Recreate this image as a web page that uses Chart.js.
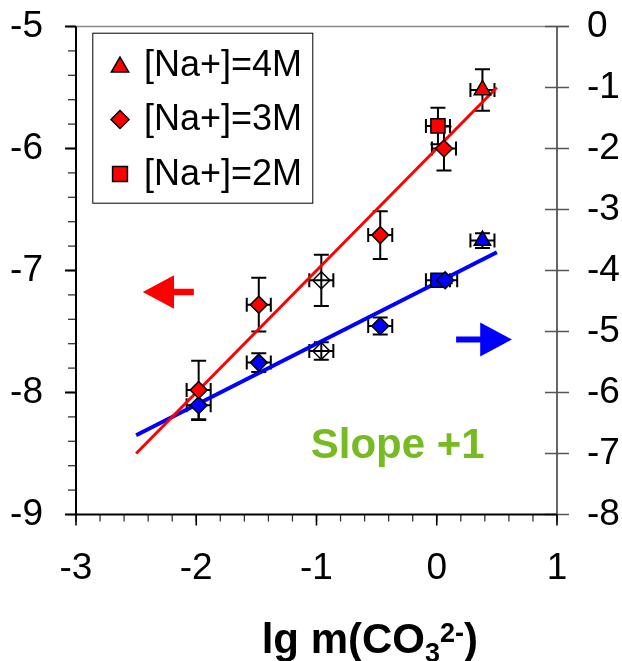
<!DOCTYPE html>
<html><head><meta charset="utf-8">
<script src="https://cdn.jsdelivr.net/npm/chart.js@4/dist/chart.umd.min.js"></script>
<style>html,body{margin:0;padding:0;background:#fff}canvas{display:block}</style>
</head><body>
<canvas id="c" width="622" height="661"></canvas>
<script>
// ---- axis ticks ----
const xTickValues = [-3, -2, -1, 0, 1];
const yLeftTickValues = [-9, -8, -7, -6, -5];
const yRightTickValues = [-8, -7, -6, -5, -4, -3, -2, -1, 0];

// ---- legend labels ----
const legendLabels = ['[Na+]=4M', '[Na+]=3M', '[Na+]=2M'];

// ---- red series (left axis) ----
const red4M_x = [0.38];
const red4M_y = [-5.52];
const red4M_yErr = [0.17];
const red4M_xErr = [0.1];

const red3M_x = [-1.98, -1.48, -0.96, -0.47, 0.06];
const red3M_y = [-7.98, -7.28, -7.08, -6.71, -6.00];
const red3M_yErr = [0.24, 0.22, 0.21, 0.195, 0.18];
const red3M_xErr = [0.1, 0.1, 0.1, 0.1, 0.1];
const red3M_open = [false, false, true, false, false];

const red2M_x = [0.01];
const red2M_y = [-5.815];
const red2M_yErr = [0.15];
const red2M_xErr = [0.1];

// ---- blue series (right axis) ----
const blue4M_x = [0.38];
const blue4M_y = [-3.51];
const blue4M_yErr = [0.12];
const blue4M_xErr = [0.1];

const blue3M_x = [-1.98, -1.48, -0.96, -0.47, 0.07];
const blue3M_y = [-6.21, -5.51, -5.32, -4.91, -4.16];
const blue3M_yErr = [0.24, 0.155, 0.145, 0.14, 0.05];
const blue3M_xErr = [0.1, 0.1, 0.1, 0.1, 0.1];
const blue3M_open = [false, false, true, false, false];

const blue2M_x = [0.01];
const blue2M_y = [-4.16];
const blue2M_yErr = [0.05];
const blue2M_xErr = [0.1];

// ---- fitted lines ----
const redFit_x = [-2.5, 0.5];
const redFit_y = [-8.5, -5.5];
const blueFit_x = [-2.5, 0.5];
const blueFit_y = [-6.7, -3.7];

// ---- annotations (data coordinates) ----
const redArrow = {fromX: -2.02, toX: -2.445, y: -7.176};
const blueArrow = {fromX: 0.161, toX: 0.625, y: -5.13};
const slopeText = {text: 'Slope +1', x: -0.325, y: -8.54};

const RED = '#ff0000', BLUE = '#0000ff', GREEN = '#77bb22';
const FONT = "'Liberation Sans', Arial, sans-serif";

function pts(xs, ys) { return xs.map((x, i) => ({x: x, y: ys[i]})); }

function pointSet(label, xs, ys, yErr, xErr, color, style, radius, axis, open) {
  return {
    label: label, data: pts(xs, ys), yAxisID: axis, showLine: false,
    pointStyle: style, pointRadius: radius, pointHoverRadius: radius,
    pointBackgroundColor: open ? open.map(o => o ? 'rgba(0,0,0,0)' : color) : color,
    pointBorderColor: '#000', pointBorderWidth: 1.5,
    yErr: yErr, xErr: xErr, order: 0
  };
}

const datasets = [
  pointSet(legendLabels[0], red4M_x, red4M_y, red4M_yErr, red4M_xErr, RED, 'triangle', 9.5, 'y', null),
  pointSet(legendLabels[1], red3M_x, red3M_y, red3M_yErr, red3M_xErr, RED, 'rectRot', 8.5, 'y', red3M_open),
  pointSet(legendLabels[2], red2M_x, red2M_y, red2M_yErr, red2M_xErr, RED, 'rect', 10, 'y', null),
  pointSet(legendLabels[0], blue4M_x, blue4M_y, blue4M_yErr, blue4M_xErr, BLUE, 'triangle', 9.5, 'y2', null),
  pointSet(legendLabels[1], blue3M_x, blue3M_y, blue3M_yErr, blue3M_xErr, BLUE, 'rectRot', 8.5, 'y2', blue3M_open),
  pointSet(legendLabels[2], blue2M_x, blue2M_y, blue2M_yErr, blue2M_xErr, BLUE, 'rect', 10, 'y2', null),
  {label: 'fit left', data: pts(redFit_x, redFit_y), yAxisID: 'y', showLine: true,
   borderColor: RED, borderWidth: 3, pointRadius: 0, order: 2},
  {label: 'fit right', data: pts(blueFit_x, blueFit_y), yAxisID: 'y2', showLine: true,
   borderColor: BLUE, borderWidth: 4, pointRadius: 0, order: 2}
];

const fixedAxes = {
  id: 'fixedAxes',
  beforeDatasetsDraw(chart) {
    // error bars
    const ctx = chart.ctx, xs = chart.scales.x;
    ctx.save();
    ctx.strokeStyle = '#000'; ctx.lineWidth = 2;
    chart.data.datasets.forEach(ds => {
      if (!ds.yErr) return;
      const ys = chart.scales[ds.yAxisID];
      ds.data.forEach((p, j) => {
        const px = xs.getPixelForValue(p.x), py = ys.getPixelForValue(p.y);
        const yt = ys.getPixelForValue(p.y + ds.yErr[j]), yb = ys.getPixelForValue(p.y - ds.yErr[j]);
        const xl = xs.getPixelForValue(p.x - ds.xErr[j]), xr = xs.getPixelForValue(p.x + ds.xErr[j]);
        ctx.beginPath();
        ctx.moveTo(px, yt); ctx.lineTo(px, yb);
        ctx.moveTo(px - 7.5, yt); ctx.lineTo(px + 7.5, yt);
        ctx.moveTo(px - 7.5, yb); ctx.lineTo(px + 7.5, yb);
        ctx.moveTo(xl, py); ctx.lineTo(xr, py);
        ctx.moveTo(xl, py - 7); ctx.lineTo(xl, py + 7);
        ctx.moveTo(xr, py - 7); ctx.lineTo(xr, py + 7);
        ctx.stroke();
      });
    });
    ctx.restore();
  },
  afterDatasetsDraw(chart) {
    const ctx = chart.ctx, a = chart.chartArea;
    const xs = chart.scales.x, yl = chart.scales.y, yr = chart.scales.y2;
    ctx.save();
    // top frame line
    ctx.strokeStyle = '#888'; ctx.lineWidth = 1.5;
    ctx.beginPath(); ctx.moveTo(a.left, a.top); ctx.lineTo(a.right + 12, a.top); ctx.stroke();
    // right axis
    ctx.strokeStyle = '#000'; ctx.lineWidth = 1.2;
    ctx.beginPath(); ctx.moveTo(a.right, a.top); ctx.lineTo(a.right, a.bottom); ctx.stroke();
    ctx.strokeStyle = '#555'; ctx.lineWidth = 1.5;
    yRightTickValues.forEach(v => {
      const p = yr.getPixelForValue(v);
      ctx.beginPath(); ctx.moveTo(a.right - 12, p); ctx.lineTo(a.right + 12, p); ctx.stroke();
    });
    // left axis minor / major ticks
    ctx.strokeStyle = '#333'; ctx.lineWidth = 1.3;
    for (let k = 0; k <= 20; k++) {
      const v = yl.min + k * 0.2;
      const p = yl.getPixelForValue(v);
      ctx.beginPath(); ctx.moveTo(a.left - 8, p); ctx.lineTo(a.left, p); ctx.stroke();
    }
    ctx.strokeStyle = '#000'; ctx.lineWidth = 2;
    yLeftTickValues.forEach(v => {
      const p = yl.getPixelForValue(v);
      ctx.beginPath(); ctx.moveTo(a.left - 11, p); ctx.lineTo(a.left, p); ctx.stroke();
    });
    ctx.beginPath(); ctx.moveTo(a.left, a.top); ctx.lineTo(a.left, a.bottom); ctx.stroke();
    // bottom axis
    ctx.strokeStyle = '#333'; ctx.lineWidth = 1.3;
    for (let k = 0; k <= 20; k++) {
      const v = xs.min + k * 0.2;
      const p = xs.getPixelForValue(v);
      ctx.beginPath(); ctx.moveTo(p, a.bottom); ctx.lineTo(p, a.bottom + 7); ctx.stroke();
    }
    ctx.strokeStyle = '#000'; ctx.lineWidth = 1.6;
    xTickValues.forEach(v => {
      const p = xs.getPixelForValue(v);
      ctx.beginPath(); ctx.moveTo(p, a.bottom); ctx.lineTo(p, a.bottom + 11); ctx.stroke();
    });
    ctx.lineWidth = 2.2;
    ctx.beginPath(); ctx.moveTo(a.left, a.bottom); ctx.lineTo(a.right, a.bottom); ctx.stroke();

    // arrows
    function arrow(ax, ys, color, headLen, headHalf, shaftHalf) {
      const y = ys.getPixelForValue(ax.y);
      const x0 = xs.getPixelForValue(ax.fromX), x1 = xs.getPixelForValue(ax.toX);
      const dir = Math.sign(x1 - x0);
      const xb = x1 - dir * headLen;
      ctx.fillStyle = color;
      ctx.beginPath();
      ctx.moveTo(x0, y - shaftHalf); ctx.lineTo(xb, y - shaftHalf); ctx.lineTo(xb, y - headHalf);
      ctx.lineTo(x1, y); ctx.lineTo(xb, y + headHalf); ctx.lineTo(xb, y + shaftHalf);
      ctx.lineTo(x0, y + shaftHalf); ctx.closePath(); ctx.fill();
    }
    arrow(redArrow, yl, RED, 31.3, 16.7, 3.2);
    arrow(blueArrow, yr, BLUE, 31.7, 17, 3);

    // slope text
    ctx.fillStyle = GREEN; ctx.font = 'bold 42px ' + FONT;
    ctx.textAlign = 'center'; ctx.textBaseline = 'alphabetic';
    ctx.fillText(slopeText.text, xs.getPixelForValue(slopeText.x), yl.getPixelForValue(slopeText.y));

    // legend
    const lx = a.left + 16.3, ly = a.top + 6.2, lw = 220, lh = 170;
    ctx.fillStyle = '#fff'; ctx.fillRect(lx, ly, lw, lh);
    ctx.strokeStyle = '#000'; ctx.lineWidth = 1;
    ctx.strokeRect(lx + 0.5, ly + 0.5, lw, lh);
    const styles = [['triangle', 10, 2], ['rectRot', 9, 0], ['rect', 10.5, 0]];
    ctx.font = '36px ' + FONT; ctx.textAlign = 'left'; ctx.textBaseline = 'alphabetic';
    legendLabels.forEach((t, i) => {
      const cy = ly + 32.3 + i * 54.5;
      ctx.fillStyle = RED; ctx.strokeStyle = '#000'; ctx.lineWidth = 1.5;
      Chart.helpers.drawPoint(ctx, {pointStyle: styles[i][0], radius: styles[i][1], rotation: 0, borderWidth: 1.5},
        lx + 27.7, cy + styles[i][2]);
      ctx.fillStyle = '#000';
      ctx.fillText(t, lx + 51.7, cy + 10.5);
    });

    // x-axis title with sub/superscript
    const tx = a.left + 185.7, tb = 653.3;
    ctx.fillStyle = '#000'; ctx.textAlign = 'left';
    ctx.font = 'bold 42px ' + FONT;
    const main = 'lg m(CO';
    ctx.fillText(main, tx, tb);
    let cx = tx + ctx.measureText(main).width;
    ctx.font = 'bold 27px ' + FONT;
    ctx.fillText('3', cx, tb + 9);
    cx += ctx.measureText('3').width;
    ctx.fillText('2-', cx, tb - 11.5);
    cx += ctx.measureText('2-').width;
    ctx.font = 'bold 42px ' + FONT;
    ctx.fillText(')', cx, tb);
    ctx.restore();
  }
};

const tickFont = {family: FONT, size: 37};
function noPad(s) { s.paddingTop = 0; s.paddingBottom = 0; s.paddingLeft = 0; s.paddingRight = 0; }

new Chart(document.getElementById('c'), {
  type: 'scatter',
  data: {datasets: datasets},
  plugins: [fixedAxes],
  options: {
    responsive: false, animation: false, devicePixelRatio: 1,
    layout: {padding: {top: 26.5, left: 0, right: 0, bottom: 0}},
    plugins: {legend: {display: false}, tooltip: {enabled: false}},
    scales: {
      x: {
        type: 'linear', position: 'bottom', min: -3, max: 1,
        afterBuildTicks: s => { s.ticks = xTickValues.map(v => ({value: v})); },
        ticks: {font: tickFont, color: '#000', padding: 32, maxRotation: 0, autoSkip: false,
                callback: v => String(v)},
        grid: {display: false, drawTicks: false}, border: {display: false},
        afterFit: s => { s.height = 146.5; noPad(s); }
      },
      y: {
        type: 'linear', position: 'left', min: -9, max: -5,
        afterBuildTicks: s => { s.ticks = yLeftTickValues.map(v => ({value: v})); },
        ticks: {font: tickFont, color: '#000', padding: 33, callback: v => String(v)},
        grid: {display: false, drawTicks: false}, border: {display: false},
        afterFit: s => { s.width = 76; noPad(s); }
      },
      y2: {
        type: 'linear', position: 'right', min: -8, max: 0,
        afterBuildTicks: s => { s.ticks = yRightTickValues.map(v => ({value: v})); },
        ticks: {font: tickFont, color: '#000', padding: 30, callback: v => String(v)},
        grid: {display: false, drawTicks: false}, border: {display: false},
        afterFit: s => { s.width = 65; noPad(s); }
      }
    }
  }
});
</script>
</body></html>
